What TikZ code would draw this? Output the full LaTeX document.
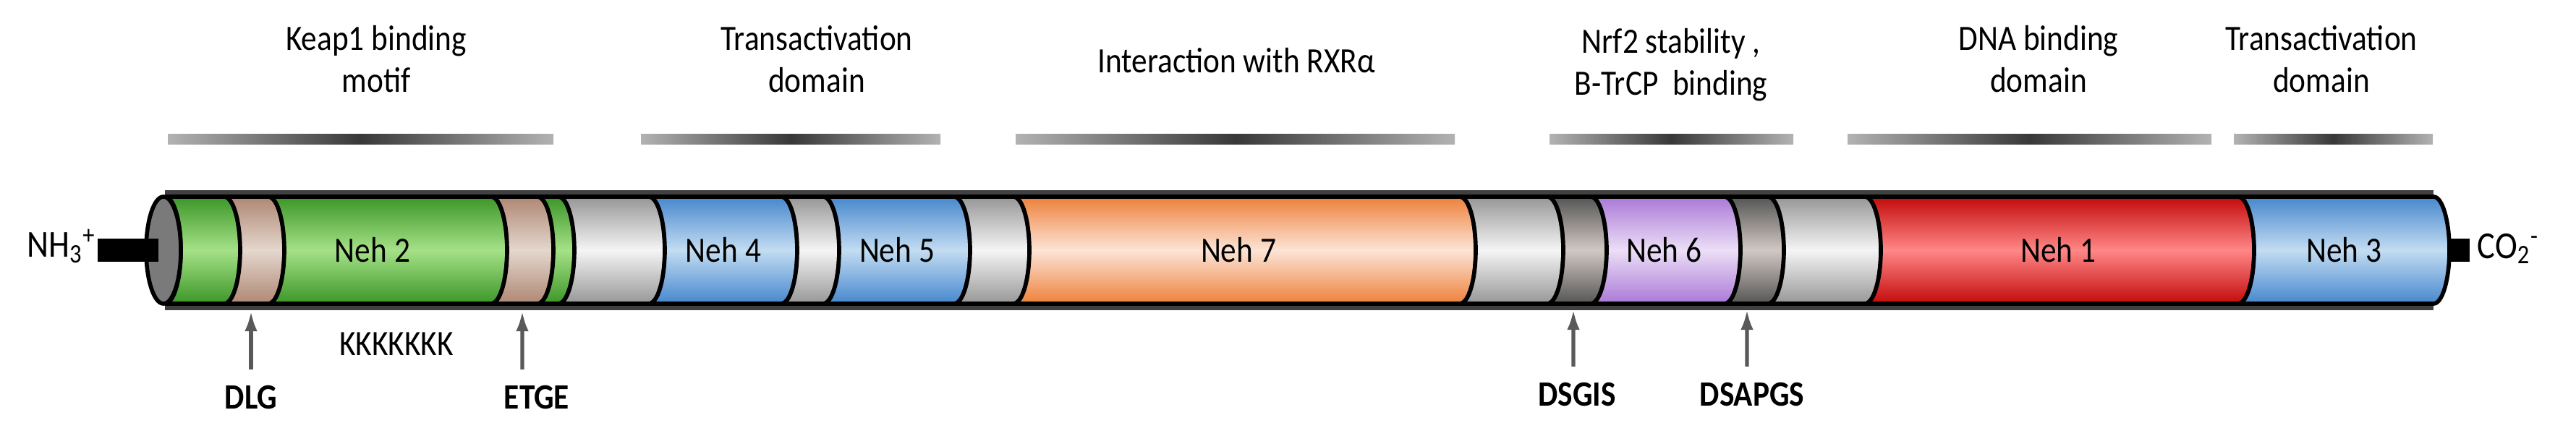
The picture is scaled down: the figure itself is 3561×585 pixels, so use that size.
\documentclass[tikz,border=0pt]{standalone}
\usepackage{fontspec}
\setmainfont{Carlito}[FakeStretch=0.88]
\usetikzlibrary{arrows.meta}
\begin{document}
\begin{tikzpicture}[x=0.01cm,y=0.01cm,
  txt/.style={font=\fontsize{14}{16.5}\selectfont,align=center,inner sep=0},
  lbl/.style={font=\fontsize{14}{16}\selectfont,inner sep=0},
  site/.style={font=\fontsize{14}{16}\selectfont\bfseries,inner sep=0},
  bar/.style={left color=black!30,right color=black!30,middle color=black!78,draw=none},
  arr/.style={draw=black!65,line width=1.5pt,-{Latex[length=8pt,width=5pt]}},
  seg/.style={draw=black,line width=1.6pt},
]
\useasboundingbox (0,0) rectangle (3561,-585);
\definecolor{gE}{RGB}{60,150,40}\definecolor{gM}{RGB}{165,225,135}
\definecolor{bE}{RGB}{175,135,115}\definecolor{bM}{RGB}{228,215,205}
\definecolor{yE}{RGB}{150,150,150}\definecolor{yM}{RGB}{245,245,245}
\definecolor{uE}{RGB}{70,135,205}\definecolor{uM}{RGB}{195,220,242}
\definecolor{oE}{RGB}{238,128,58}\definecolor{oM}{RGB}{252,228,214}
\definecolor{dE}{RGB}{85,85,85}\definecolor{dM}{RGB}{210,200,195}
\definecolor{pE}{RGB}{170,120,215}\definecolor{pM}{RGB}{236,222,247}
\definecolor{rE}{RGB}{195,10,10}\definecolor{rM}{RGB}{255,135,135}
% cylinder outline
\draw[line width=5pt,black!75] (228,-272) -- (3364,-272);
\draw[line width=5pt,black!75] (228,-420) -- (3364,-420);
% segments
\foreach \a/\b/\c in {250/332/g,332/393/b,393/701/g,701/765/b,765/794/g,794/919/y,919/1102/u,1102/1160/y,1160/1341/u,1341/1423/y,1423/2040/o,2040/2161/y,2161/2221/d,2221/2406/p,2406/2466/d,2466/2600/y,2600/3116/r,3116/3386/u}{
  \path[seg,top color=\c E,bottom color=\c E,middle color=\c M]
    (\a-22,-272) -- (\b-22,-272) arc[start angle=90,end angle=-90,x radius=22,y radius=74]
    -- (\a-22,-420) arc[start angle=-90,end angle=90,x radius=22,y radius=74] -- cycle;
}
% left cap
\draw[line width=1.6pt,fill=black!52] (226,-346) ellipse[x radius=24,y radius=74];
% termini
\draw[line width=9pt] (135,-346) -- (219,-346);
\node[lbl,font=\fontsize{15}{16}\selectfont,anchor=east] (nh) at (133,-340) {NH\textsubscript{3}\textsuperscript{+}};
\draw[line width=9pt] (3388,-346) -- (3414,-346);
\node[lbl,font=\fontsize{15}{16}\selectfont,anchor=west] (co) at (3424,-344) {CO\textsubscript{2}\textsuperscript{-}};
% domain labels
\node[lbl] (n2) at (515,-346) {Neh 2};
\node[lbl] (n4) at (1000,-346) {Neh 4};
\node[lbl] (n5) at (1240,-346) {Neh 5};
\node[lbl] (n7) at (1712,-346) {Neh 7};
\node[lbl] (n6) at (2300,-346) {Neh 6};
\node[lbl] (n1) at (2845,-346) {Neh 1};
\node[lbl] (n3) at (3240,-346) {Neh 3};
% region bars and titles
\fill[bar] (232,-186) rectangle (765,-200);
\fill[bar] (886,-186) rectangle (1300,-200);
\fill[bar] (1404,-186) rectangle (2011,-200);
\fill[bar] (2142,-186) rectangle (2479,-200);
\fill[bar] (2554,-186) rectangle (3057,-200);
\fill[bar] (3088,-186) rectangle (3363,-200);
\node[txt] (t1) at (520,-82) {Keap1 binding\\motif};
\node[txt] (t2) at (1129,-82) {Transactivation\\domain};
\node[txt] (t3) at (1709,-84) {Interaction with RXRα};
\node[txt] (t4) at (2310,-90) {Nrf2 stability ,\\B-TrCP\ \ binding};
\node[txt] (t5) at (2818,-82) {DNA binding\\domain};
\node[txt] (t6) at (3209,-82) {Transactivation\\domain};
% sites
\node[lbl] (kk) at (548,-476) {KKKKKKK};
\node[site] (dlg) at (347,-550) {DLG};
\node[site] (etge) at (742,-550) {ETGE};
\node[site] (dsgis) at (2180,-546) {DSGIS};
\node[site] (dsapgs) at (2422,-546) {DSAPGS};
\coordinate (a1) at (347,-430);
\coordinate (a2) at (722,-430);
\coordinate (a3) at (2175,-428);
\coordinate (a4) at (2415,-428);
\draw[arr] ([yshift=0.22cm]dlg.north) -- (a1);
\draw[arr] ([xshift=-0.2cm,yshift=0.22cm]etge.north) -- (a2);
\draw[arr] ([xshift=-0.05cm,yshift=0.22cm]dsgis.north) -- (a3);
\draw[arr] ([xshift=-0.07cm,yshift=0.22cm]dsapgs.north) -- (a4);
\end{tikzpicture}
\end{document}
